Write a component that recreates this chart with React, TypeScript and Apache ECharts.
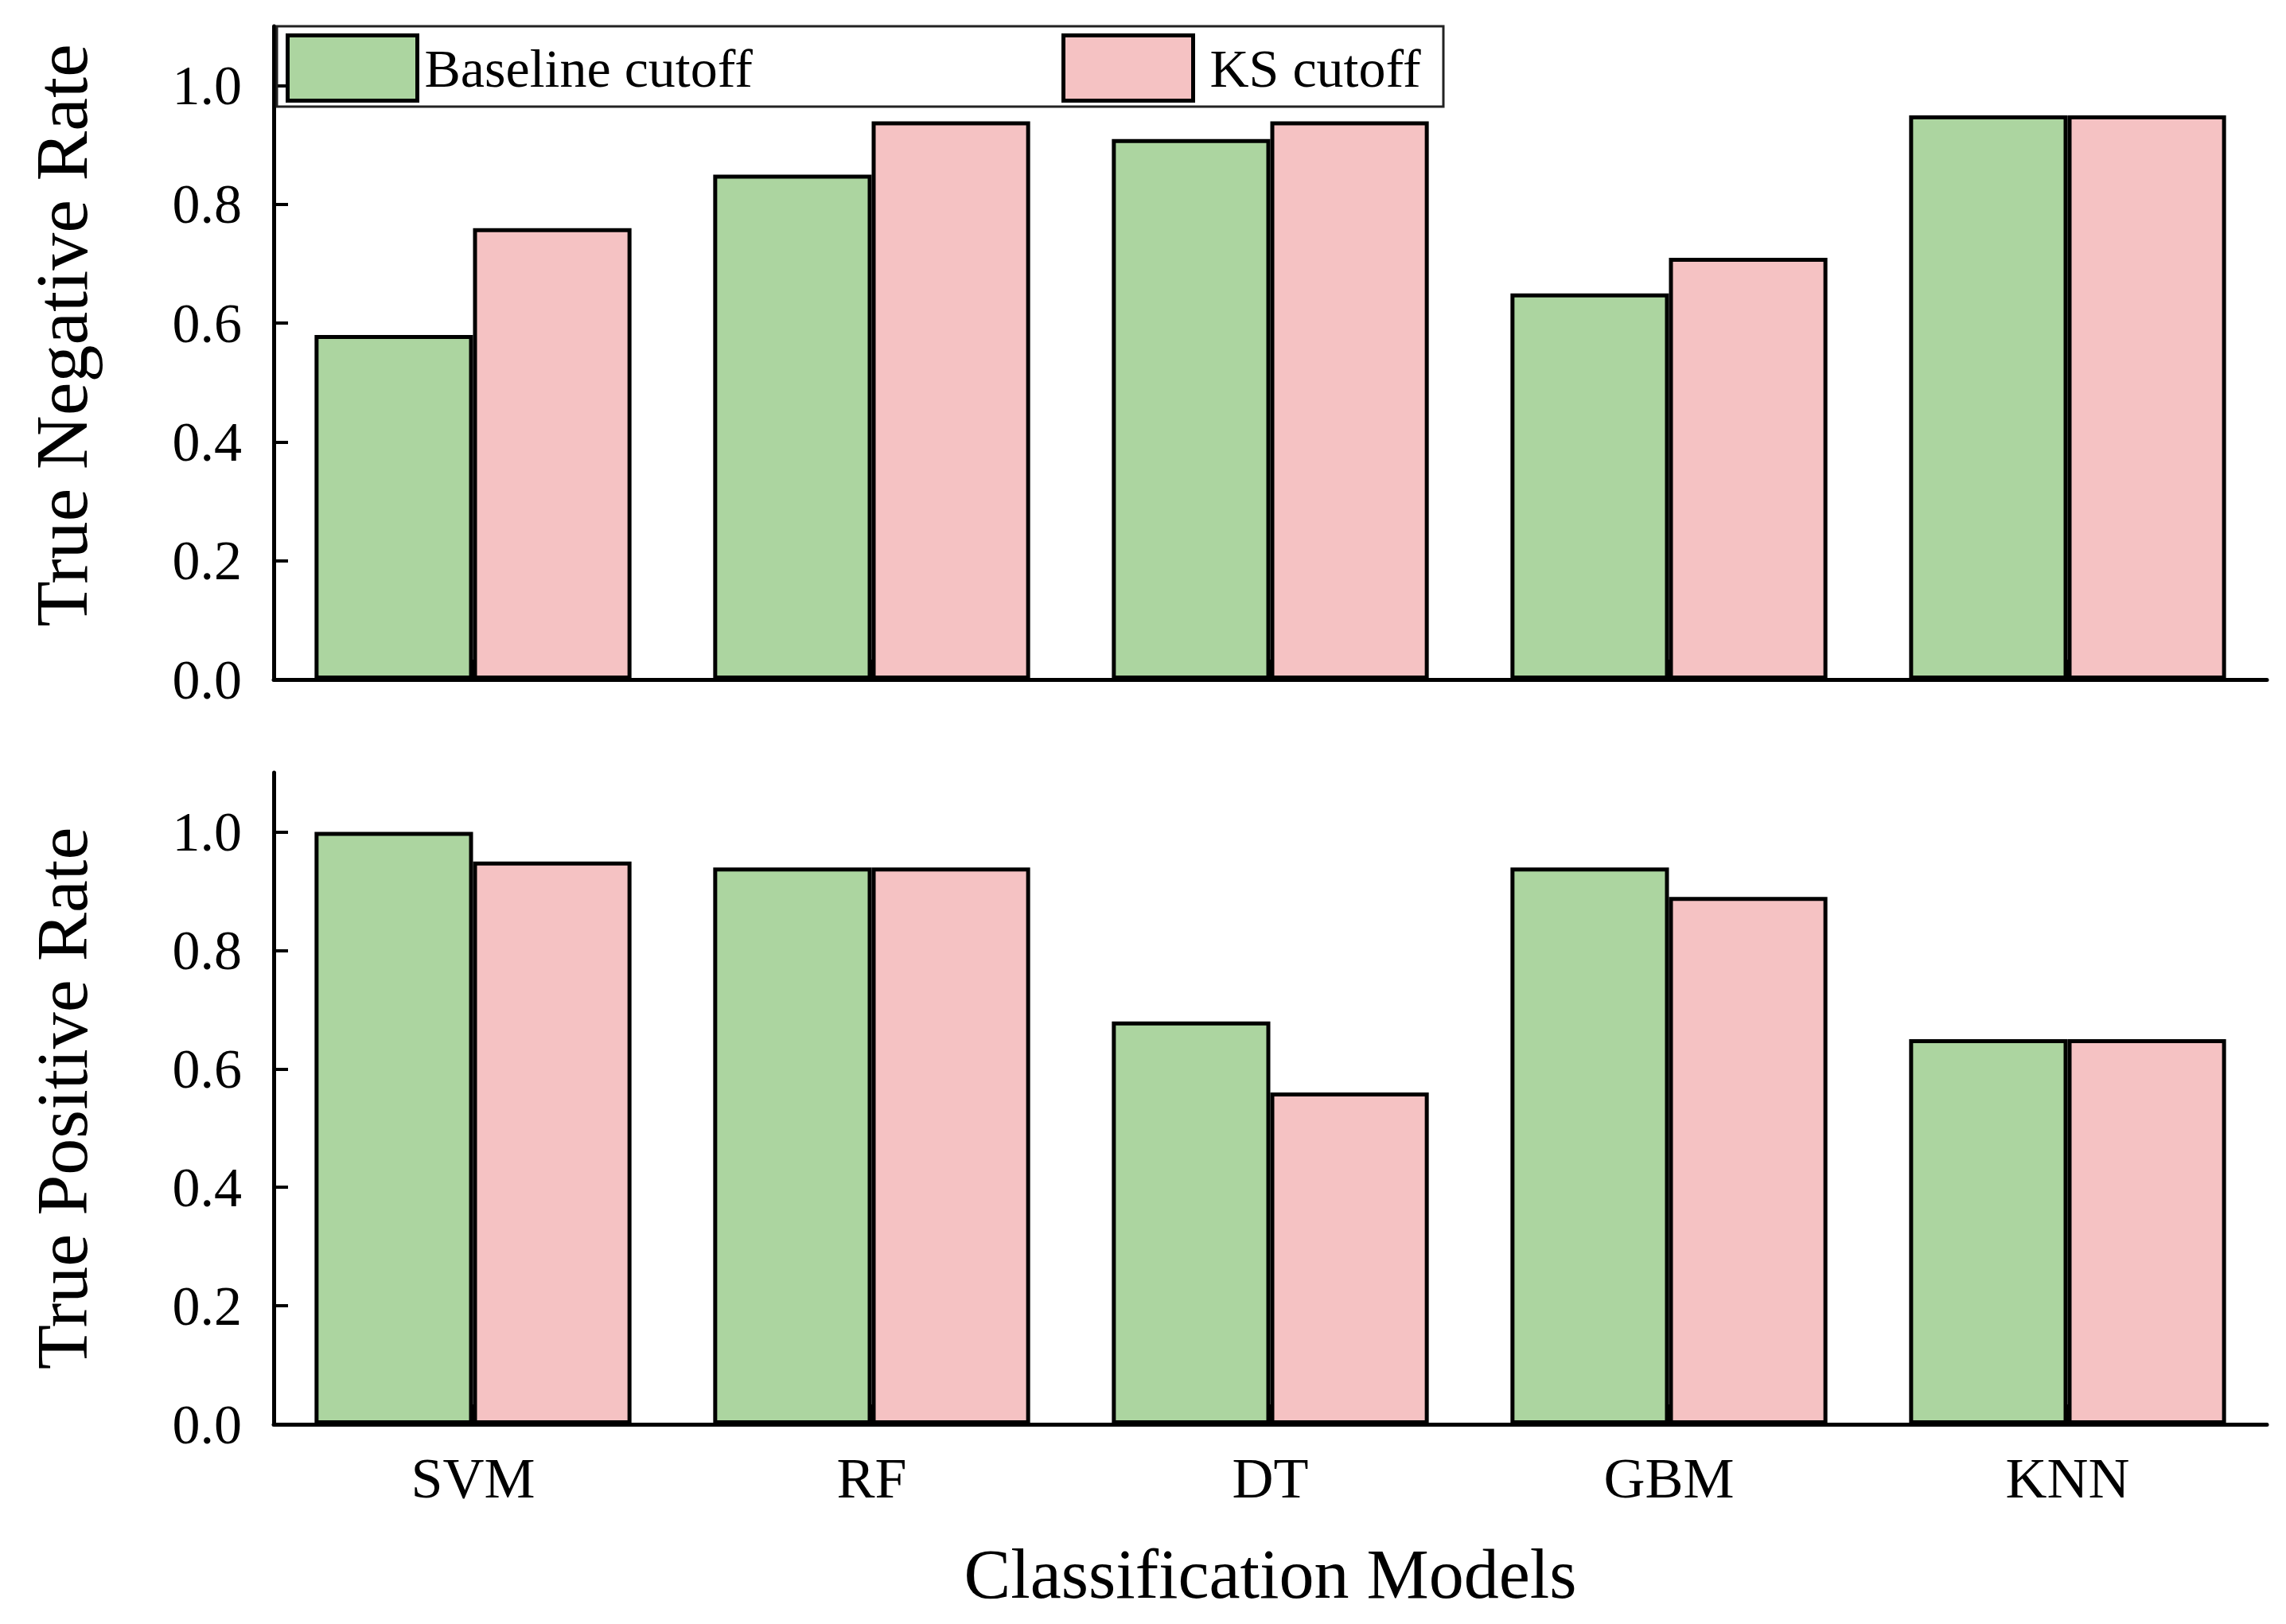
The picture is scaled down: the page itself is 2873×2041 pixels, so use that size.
import React, { useEffect, useRef } from 'react';
import * as echarts from 'echarts';

const categories = ['SVM', 'RF', 'DT', 'GBM', 'KNN'];
const seriesNames = ['Baseline cutoff', 'KS cutoff'];
const tnrBaseline = [0.58, 0.85, 0.91, 0.65, 0.95];
const tnrKS = [0.76, 0.94, 0.94, 0.71, 0.95];
const tprBaseline = [1.0, 0.94, 0.68, 0.94, 0.65];
const tprKS = [0.95, 0.94, 0.56, 0.89, 0.65];
const yTicks = [0, 0.2, 0.4, 0.6, 0.8, 1.0];
const yMin = 0;
const yMax = 1.1;
const yNames = ['True Negative Rate', 'True Positive Rate'];
const xName = 'Classification Models';

const FONT = "'Liberation Serif', 'Times New Roman', serif";
const GREEN = '#acd5a0';
const PINK = '#f5c2c3';

export default function App() {
  const ref = useRef<HTMLDivElement>(null);
  useEffect(() => {
    if (!ref.current) return;
    const chart = echarts.init(ref.current, undefined, { renderer: 'svg' });

    const yAxisBase = (idx: number) => ({
      type: 'value',
      gridIndex: idx,
      min: yMin,
      max: yMax,
      name: yNames[idx],
      nameLocation: 'middle',
      nameGap: 220,
      nameTextStyle: {
        fontFamily: FONT,
        fontSize: idx === 0 ? 94 : 92,
        color: '#000',
        padding: idx === 0 ? [0, 0, 0, 44] : 0,
      },
      splitLine: { show: false },
      axisLine: { show: true, lineStyle: { color: '#000', width: 5 } },
      axisTick: {
        show: true,
        inside: true,
        length: 18,
        customValues: yTicks,
        lineStyle: { color: '#000', width: 4 },
      },
      axisLabel: {
        customValues: yTicks,
        margin: 40,
        fontFamily: FONT,
        fontSize: 70,
        color: '#000',
        formatter: (v: number) => v.toFixed(1),
      },
    });

    const xAxisBase = (idx: number) => ({
      type: 'category',
      gridIndex: idx,
      data: categories,
      boundaryGap: true,
      axisLine: { show: true, lineStyle: { color: '#000', width: 5 } },
      axisTick: {
        show: true,
        inside: true,
        alignWithLabel: true,
        length: 25,
        lineStyle: { color: '#000', width: 4 },
      },
      axisLabel: {
        show: idx === 1,
        margin: 32,
        fontFamily: FONT,
        fontSize: 72,
        color: '#000',
      },
      name: idx === 1 ? xName : '',
      nameLocation: 'middle',
      nameGap: 144,
      nameTextStyle: { fontFamily: FONT, fontSize: 88, color: '#000' },
    });

    const barStyle = (color: string) => ({
      color,
      borderColor: '#000',
      borderWidth: 5,
    });

    const mkBar = (name: string, data: number[], idx: number, color: string) => ({
      type: 'bar',
      name,
      xAxisIndex: idx,
      yAxisIndex: idx,
      data,
      barGap: '0%',
      barCategoryGap: '20.5%',
      itemStyle: barStyle(color),
    });

    const legendBase = {
      orient: 'horizontal',
      top: 42,
      itemWidth: 163,
      itemHeight: 82,
      icon: 'rect',
      itemStyle: { borderColor: '#000', borderWidth: 5 },
      padding: 0,
      selectedMode: false,
    };

    chart.setOption({
      animation: false,
      backgroundColor: '#fff',
      grid: [
        { left: 344, right: 24, top: 33, height: 821, containLabel: false },
        { left: 344, right: 24, top: 971, height: 819, containLabel: false },
      ],
      legend: [
        {
          ...legendBase,
          left: 359,
          data: [seriesNames[0]],
          textStyle: { fontFamily: FONT, fontSize: 68, color: '#000', padding: [0, 0, 0, 4] },
        },
        {
          ...legendBase,
          left: 1334,
          data: [seriesNames[1]],
          textStyle: { fontFamily: FONT, fontSize: 68, color: '#000', padding: [0, 0, 0, 16] },
        },
      ],
      graphic: [
        {
          type: 'rect',
          shape: { x: 348, y: 33, width: 1466, height: 101 },
          style: { fill: 'none', stroke: '#222', lineWidth: 3 },
          z: 10,
        },
      ],
      xAxis: [xAxisBase(0), xAxisBase(1)],
      yAxis: [yAxisBase(0), yAxisBase(1)],
      series: [
        mkBar(seriesNames[0], tnrBaseline, 0, GREEN),
        mkBar(seriesNames[1], tnrKS, 0, PINK),
        mkBar(seriesNames[0], tprBaseline, 1, GREEN),
        mkBar(seriesNames[1], tprKS, 1, PINK),
      ],
    });

    return () => chart.dispose();
  }, []);

  return (
    <div
      ref={ref}
      style={{ position: 'fixed', left: 0, top: 0, width: 2873, height: 2041, background: '#fff' }}
    />
  );
}
